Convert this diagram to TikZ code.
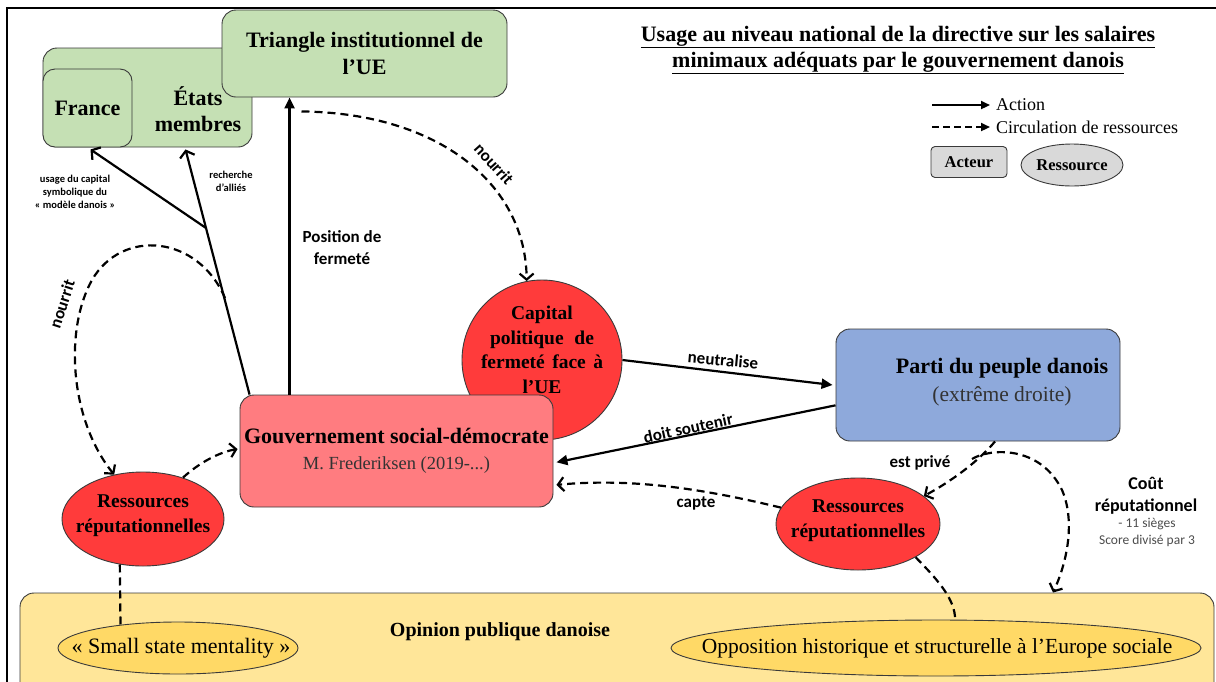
\documentclass[tikz,border=0pt]{standalone}
\usepackage{fontspec}
\setmainfont{Liberation Serif}
\newfontfamily\lblfont{Carlito}
\usetikzlibrary{arrows.meta,shapes.geometric,calc}
\definecolor{grn}{HTML}{C5E0B4}
\definecolor{redc}{HTML}{FF3B3B}
\definecolor{govc}{HTML}{FF7C80}
\definecolor{bluec}{HTML}{8EA9DB}
\definecolor{yelc}{HTML}{FFE699}
\definecolor{yel2}{HTML}{FFD966}
\definecolor{grayc}{HTML}{D9D9D9}
\definecolor{edge}{HTML}{3A3A3A}
\tikzset{
  box/.style={draw=edge, line width=0.9pt, rounded corners=14pt, inner sep=0pt, align=center},
  res/.style={ellipse, draw=edge, line width=0.9pt, inner sep=0pt},
  txt/.style={inner sep=0pt, align=center},
  act/.style={line width=2.2pt, -{Triangle[length=11pt,width=10pt]}},
  actv/.style={line width=2.2pt, -{Straight Barb[length=6pt,width=15pt,line width=2.2pt]}},
  flow/.style={line width=2.2pt, dash pattern=on 8pt off 5pt, -{Straight Barb[length=6pt,width=14pt,line width=2.2pt]}},
  flowline/.style={line width=2.2pt, dash pattern=on 8pt off 5pt},
  lbl/.style={font=\lblfont\bfseries\fontsize{17}{22}\selectfont, align=center, inner sep=0pt},
  smalllbl/.style={font=\lblfont\bfseries\fontsize{10.5}{13}\selectfont, align=center, inner sep=0pt},
}
\begin{document}
\begin{tikzpicture}[x=1pt,y=-1pt]
\useasboundingbox (0,0) rectangle (1216,681);
% frame
\draw[line width=2pt] (7,690) -- (7,8) -- (1220,8);

% title
\node[txt, font=\bfseries\fontsize{22}{26}\selectfont] (title) at (898,50)
  {\underline{Usage au niveau national de la directive sur les salaires}\\\underline{minimaux adéquats par le gouvernement danois}};

% legend
\coordinate (la1) at (932,105); \coordinate (la2) at (990,105);
\coordinate (lb1) at (932,127); \coordinate (lb2) at (990,127);
\draw[line width=2.2pt, -{Triangle[length=9pt,width=8pt]}] (la1) -- (la2);
\draw[line width=2.2pt, dash pattern=on 7pt off 4pt, -{Triangle[length=9pt,width=8pt]}] (lb1) -- (lb2);
\node[txt, anchor=west, font=\fontsize{18}{20}\selectfont] (legAct) at (996,105) {Action};
\node[txt, anchor=west, font=\fontsize{18}{20}\selectfont] (legCirc) at (996,127) {Circulation de ressources};
\node[draw=edge, line width=0.9pt, fill=grayc, rounded corners=4pt, minimum width=76pt, minimum height=31pt, inner sep=0pt, font=\bfseries\fontsize{16.5}{18}\selectfont] (legA) at (969,162) {Acteur};
\node[res, fill=grayc, minimum width=102pt, minimum height=42pt] (legR) at (1072,165) {};
\node[txt, font=\bfseries\fontsize{16.5}{18}\selectfont] (legRT) at (1072,165) {Ressource};

% nodes
\node[box, fill=grn, minimum width=209pt, minimum height=99pt] (etats) at (147.5,97.5) {};
\node[txt, font=\bfseries\fontsize{22}{26}\selectfont] (etatsT) at (198,109) {États\\membres};
\node[box, fill=grn, rounded corners=12pt, minimum width=89pt, minimum height=78pt, font=\bfseries\fontsize{22}{26}\selectfont] (france) at (87.5,108) {France};
\node[box, fill=grn, minimum width=285pt, minimum height=87pt, font=\bfseries\fontsize{22}{27}\selectfont] (tri) at (364.5,53.5) {Triangle institutionnel de\\l’UE};

\node[res, fill=redc, minimum width=160pt, minimum height=160pt] (cap) at (542,360) {};
\node[txt, font=\bfseries\fontsize{19.5}{24.5}\selectfont] (capT) at (542,350) {Capital\\\makebox[104pt][s]{politique de}\\\makebox[122pt][s]{fermeté face à}\\l’UE};

\node[box, fill=govc, minimum width=313pt, minimum height=112pt, font=\fontsize{22}{26}\selectfont] (gov) at (396.5,451)
  {{\bfseries Gouvernement social-démocrate}\\{\color{black!80}\fontsize{18.5}{26}\selectfont M. Frederiksen (2019-...)}};

\node[box, fill=bluec, minimum width=284pt, minimum height=112pt] (parti) at (978,385) {};
\node[txt, font=\fontsize{22}{28}\selectfont] (partiT) at (1002,382)
  {{\bfseries Parti du peuple danois}\\{\color{black!80}\fontsize{21.5}{28}\selectfont (extrême droite)}};

\node[res, fill=redc, minimum width=162pt, minimum height=94pt] (resL) at (143,519) {};
\node[txt, font=\bfseries\fontsize{19.5}{25}\selectfont] (resLT) at (143,516) {Ressources\\réputationnelles};
\node[res, fill=redc, minimum width=164pt, minimum height=92pt] (resR) at (858,524) {};
\node[txt, font=\bfseries\fontsize{19.5}{25}\selectfont] (resRT) at (858,521) {Ressources\\réputationnelles};

\node[box, fill=yelc, minimum width=1194pt, minimum height=110pt] (opin) at (617,648) {};
\node[txt, font=\bfseries\fontsize{20}{24}\selectfont] (opinT) at (500,632) {Opinion publique danoise};
\node[res, fill=yel2, minimum width=240pt, minimum height=52pt] (smallst) at (178,648) {};
\node[txt, font=\fontsize{22}{24}\selectfont] (smallT) at (181,648) {« Small state mentality »};
\node[res, fill=yel2, minimum width=530pt, minimum height=56pt] (oppo) at (936,648) {};
\node[txt, font=\fontsize{21.5}{24}\selectfont] (oppoT) at (937,648) {Opposition historique et structurelle à l’Europe sociale};

% connectors
\coordinate (J) at (206,228);
\coordinate (gNW) at ($(gov.north west)+(10,0)$);
\draw[line width=2.2pt] (gNW) -- (J);
\draw[actv] (J) -- ($(france.south)+(3,2)$);
\draw[actv] (J) -- ($(etats.south)+(38,2)$);
\coordinate (gtop) at ($(gov.north west)+(50,0)$);
\draw[act] (gtop) -- (gtop |- tri.south);

\coordinate (n1) at ($(tri.south)+(-63,14)$);
\draw[flow] (n1) .. controls (440,113) and (526,185) .. (cap.101);

\coordinate (n2) at (225,298);
\draw[flow] (n2) .. controls (198,235) and (122,228) .. (92,280) .. controls (64,330) and (70,420) .. (resL.123);
\draw[flow] (resL.46) .. controls (200,462) and (220,452) .. ($(gov.west)+(-2,-2)$);
\draw[flowline] (resL.243) -- (smallst.158);

\draw[act] (cap.east) -- ($(parti.west)+(-3,0)$);
\coordinate (p0) at ($(parti.north west)!0.68!(parti.south west)$);
\coordinate (g1) at ($(gov.north east)!0.6!(gov.south east)$);
\draw[act] (p0) -- ($(g1)+(3,0)$);
\coordinate (g2) at ($(gov.north east)!0.8!(gov.south east)$);
\draw[flow] (resR.168) .. controls (700,488) and (630,478) .. ($(g2)+(3,0)$);

\coordinate (p1) at ($(parti.south)+(17,0)$);
\draw[flow] (p1) .. controls (978,462) and (950,482) .. (resR.23);
\coordinate (n3) at (972,459);
\draw[flow] (n3) .. controls (990,448) and (1040,445) .. (1062,490) .. controls (1075,520) and (1068,560) .. ($(opin.north)+(436,0)$);
\draw[flowline] (resR.330) .. controls (940,582) and (955,600) .. (oppo.56);

% labels
\node[smalllbl] (lUsage) at (75,192) {usage du capital\\symbolique du\\« modèle danois »};
\node[smalllbl] (lRech) at (231,181) {recherche\\d’alliés};
\node[lbl] (lPos) at (342,248) {Position de\\fermeté};
\node[lbl, rotate=-48] (lNour1) at (494,164) {nourrit};
\node[lbl, rotate=72] (lNour2) at (62,304) {nourrit};
\node[lbl, rotate=-5] (lNeut) at (723,360) {neutralise};
\node[lbl, rotate=12] (lDoit) at (688,428) {doit soutenir};
\node[lbl] (lCapte) at (696,503) {capte};
\node[lbl] (lPriv) at (920,463) {est privé};
\node[lbl, font=\lblfont\bfseries\fontsize{18}{22}\selectfont] (lCout) at (1146,496) {Coût\\réputationnel};
\node[txt, font=\lblfont\fontsize{13.5}{17}\selectfont, text=black!70] (lSieg) at (1147,532) {- 11 sièges\\Score divisé par 3};
\end{tikzpicture}
\end{document}
